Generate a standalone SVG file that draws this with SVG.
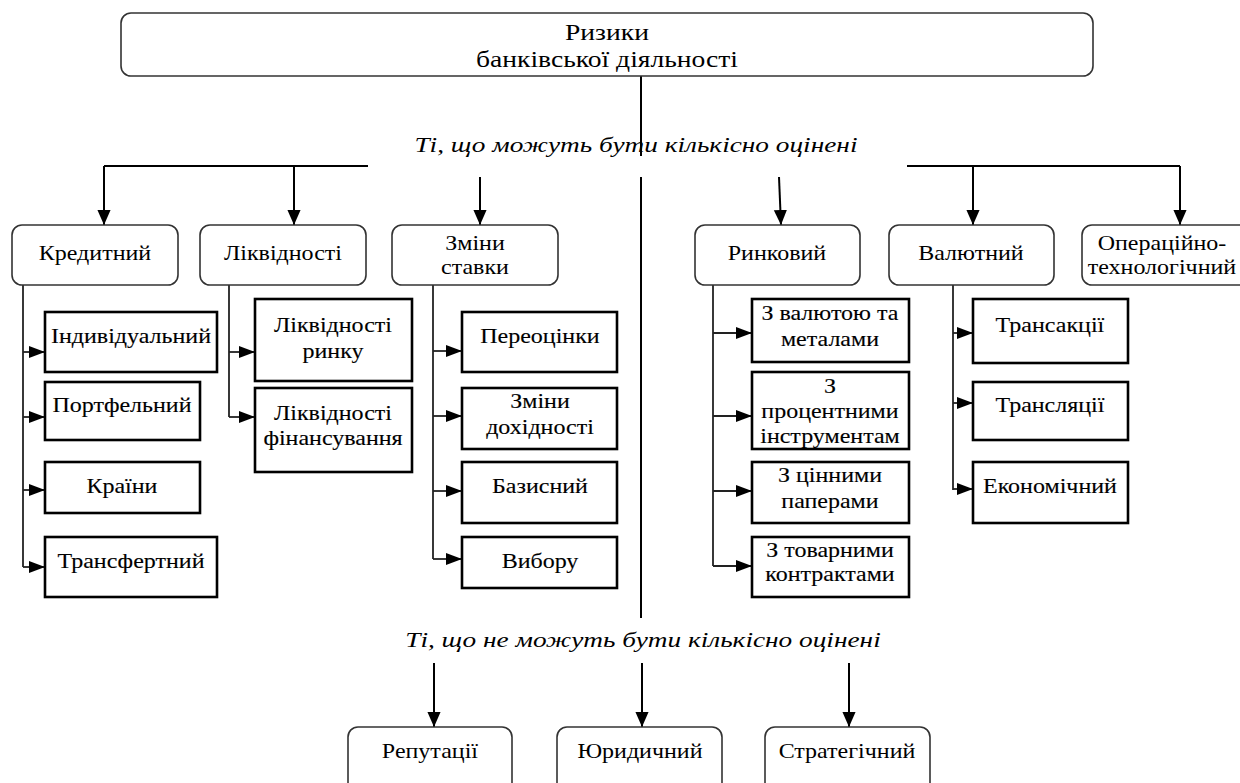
<svg xmlns="http://www.w3.org/2000/svg" width="1240" height="783" viewBox="0 0 1240 783">
<style>
  .rb { fill: #ffffff; stroke: #333333; stroke-width: 1.6; }
  .sb { fill: #ffffff; stroke: #000000; stroke-width: 2.6; }
  .t { font-size: 20px; fill: #000000; text-anchor: middle; transform: scaleX(1.2); transform-box: fill-box; transform-origin: center; }
  .tt { font-size: 23px; }
  .sbt { stroke: #000000; stroke-width: 0.12; }
  .ti { font-size: 21px; font-style: italic; fill: #000000; text-anchor: middle; transform: scaleX(1.3); transform-box: fill-box; transform-origin: center; }
  .c { fill: none; stroke: #000000; stroke-width: 2; }
  .cs { fill: none; stroke: #222222; stroke-width: 1.8; }
</style>
<defs>
  <marker id="ad" viewBox="0 0 16 14" refX="16" refY="7" markerWidth="15" markerHeight="15" markerUnits="userSpaceOnUse" orient="auto">
    <path d="M0,0 L16,7 L0,14 z" fill="#000000"/>
  </marker>
  <marker id="as" viewBox="0 0 16 12" refX="16" refY="6" markerWidth="16" markerHeight="13" markerUnits="userSpaceOnUse" orient="auto">
    <path d="M0,0 L16,6 L0,12 z" fill="#000000"/>
  </marker>
</defs>
<rect width="1240" height="783" fill="#ffffff"/>

<g id="connectors">
  <path class="c" d="M641,76 V156"/>
  <path class="c" d="M641,177 V618"/>
  <path class="c" d="M104,166 H368"/>
  <path class="c" d="M104,166 V225" marker-end="url(#ad)"/>
  <path class="c" d="M294,166 V225" marker-end="url(#ad)"/>
  <path class="c" d="M480,177 V225" marker-end="url(#ad)"/>
  <path class="c" d="M779,177 L781,225" marker-end="url(#ad)"/>
  <path class="c" d="M907,166 H1180"/>
  <path class="c" d="M973,166 V225" marker-end="url(#ad)"/>
  <path class="c" d="M1180,166 V225" marker-end="url(#ad)"/>
  <path class="c" d="M434,663 V727" marker-end="url(#ad)"/>
  <path class="c" d="M642,663 V727" marker-end="url(#ad)"/>
  <path class="c" d="M849,663 V727" marker-end="url(#ad)"/>

  <path class="cs" d="M23,285 V567"/>
  <path class="cs" d="M23,352 H45" marker-end="url(#as)"/>
  <path class="cs" d="M23,417 H45" marker-end="url(#as)"/>
  <path class="cs" d="M23,490 H45" marker-end="url(#as)"/>
  <path class="cs" d="M23,567 H45" marker-end="url(#as)"/>

  <path class="cs" d="M229,285 V417"/>
  <path class="cs" d="M229,352 H255" marker-end="url(#as)"/>
  <path class="cs" d="M229,417 H255" marker-end="url(#as)"/>

  <path class="cs" d="M433,285 V559"/>
  <path class="cs" d="M433,351 H462" marker-end="url(#as)"/>
  <path class="cs" d="M433,416 H462" marker-end="url(#as)"/>
  <path class="cs" d="M433,491 H462" marker-end="url(#as)"/>
  <path class="cs" d="M433,559 H462" marker-end="url(#as)"/>

  <path class="cs" d="M713,285 V566"/>
  <path class="cs" d="M713,333 H752" marker-end="url(#as)"/>
  <path class="cs" d="M713,416 H752" marker-end="url(#as)"/>
  <path class="cs" d="M713,491 H752" marker-end="url(#as)"/>
  <path class="cs" d="M713,566 H752" marker-end="url(#as)"/>

  <path class="cs" d="M953,285 V490"/>
  <path class="cs" d="M953,333 H973" marker-end="url(#as)"/>
  <path class="cs" d="M953,403 H973" marker-end="url(#as)"/>
  <path class="cs" d="M953,489 H973" marker-end="url(#as)"/>
</g>

<g font-family="Liberation Serif, Times New Roman, Times, serif">
<g id="labels">
  <text class="ti" x="636" y="152">Ті, що можуть бути кількісно оцінені</text>
  <text class="ti" x="643" y="647">Ті, що не можуть бути кількісно оцінені</text>
</g>

<g id="root">
  <rect class="rb" x="121" y="13" width="972" height="63" rx="10"/>
  <text class="t tt" x="607" y="40">Ризики</text>
  <text class="t tt" x="607" y="67">банківської діяльності</text>
</g>

<g id="n-credit"><rect class="rb" x="12" y="225" width="166" height="60" rx="10"/><text class="t" x="95" y="260">Кредитний</text></g>
<g id="n-liquidity"><rect class="rb" x="200" y="225" width="166" height="60" rx="10"/><text class="t" x="283" y="260">Ліквідності</text></g>
<g id="n-rate"><rect class="rb" x="392" y="225" width="166" height="60" rx="10"/><text class="t" x="475" y="250">Зміни</text><text class="t" x="475" y="274">ставки</text></g>
<g id="n-market"><rect class="rb" x="695" y="225" width="165" height="60" rx="10"/><text class="t" x="777" y="260">Ринковий</text></g>
<g id="n-currency"><rect class="rb" x="889" y="225" width="165" height="60" rx="10"/><text class="t" x="971" y="260">Валютний</text></g>
<g id="n-operational"><rect class="rb" x="1082" y="225" width="170" height="60" rx="10"/><text class="t" x="1162" y="250">Операційно-</text><text class="t" x="1162" y="274">технологічний</text></g>

<g id="n-individual"><rect class="sb" x="45" y="312" width="172" height="60"/><text class="t sbt" x="131" y="343">Індивідуальний</text></g>
<g id="n-portfolio"><rect class="sb" x="45" y="382" width="155" height="58"/><text class="t sbt" x="122" y="412">Портфельний</text></g>
<g id="n-country"><rect class="sb" x="45" y="462" width="155" height="51"/><text class="t sbt" x="122" y="493">Країни</text></g>
<g id="n-transfer"><rect class="sb" x="45" y="537" width="172" height="60"/><text class="t sbt" x="131" y="568">Трансфертний</text></g>

<g id="n-market-liq"><rect class="sb" x="255" y="299" width="157" height="82"/><text class="t sbt" x="333" y="332">Ліквідності</text><text class="t sbt" x="333" y="358">ринку</text></g>
<g id="n-funding-liq"><rect class="sb" x="255" y="388" width="157" height="84"/><text class="t sbt" x="333" y="420">Ліквідності</text><text class="t sbt" x="333" y="445">фінансування</text></g>

<g id="n-revaluation"><rect class="sb" x="462" y="312" width="155" height="60"/><text class="t sbt" x="540" y="343">Переоцінки</text></g>
<g id="n-yield"><rect class="sb" x="462" y="388" width="155" height="61"/><text class="t sbt" x="540" y="408">Зміни</text><text class="t sbt" x="540" y="434">дохідності</text></g>
<g id="n-basis"><rect class="sb" x="462" y="462" width="155" height="61"/><text class="t sbt" x="540" y="493">Базисний</text></g>
<g id="n-option"><rect class="sb" x="462" y="537" width="155" height="51"/><text class="t sbt" x="540" y="568">Вибору</text></g>

<g id="n-fx-metals"><rect class="sb" x="752" y="299" width="157" height="63"/><text class="t sbt" x="830" y="320">З валютою та</text><text class="t sbt" x="830" y="346">металами</text></g>
<g id="n-interest"><rect class="sb" x="752" y="372" width="157" height="77"/><text class="t sbt" x="830" y="393">З</text><text class="t sbt" x="830" y="418">процентними</text><text class="t sbt" x="830" y="443">інструментам</text></g>
<g id="n-securities"><rect class="sb" x="752" y="462" width="157" height="61"/><text class="t sbt" x="830" y="482">З цінними</text><text class="t sbt" x="830" y="508">паперами</text></g>
<g id="n-commodity"><rect class="sb" x="752" y="537" width="157" height="60"/><text class="t sbt" x="830" y="557">З товарними</text><text class="t sbt" x="830" y="581">контрактами</text></g>

<g id="n-transaction"><rect class="sb" x="973" y="299" width="155" height="64"/><text class="t sbt" x="1050" y="332">Трансакції</text></g>
<g id="n-translation"><rect class="sb" x="973" y="382" width="155" height="58"/><text class="t sbt" x="1050" y="412">Трансляції</text></g>
<g id="n-economic"><rect class="sb" x="973" y="462" width="155" height="61"/><text class="t sbt" x="1050" y="493">Економічний</text></g>

<g id="n-reputation"><rect class="rb" x="348" y="727" width="164" height="66" rx="10"/><text class="t" x="430" y="758">Репутації</text></g>
<g id="n-legal"><rect class="rb" x="557" y="727" width="165" height="66" rx="10"/><text class="t" x="640" y="758">Юридичний</text></g>
<g id="n-strategic"><rect class="rb" x="765" y="727" width="165" height="66" rx="10"/><text class="t" x="847" y="758">Стратегічний</text></g>
</g>
</svg>
